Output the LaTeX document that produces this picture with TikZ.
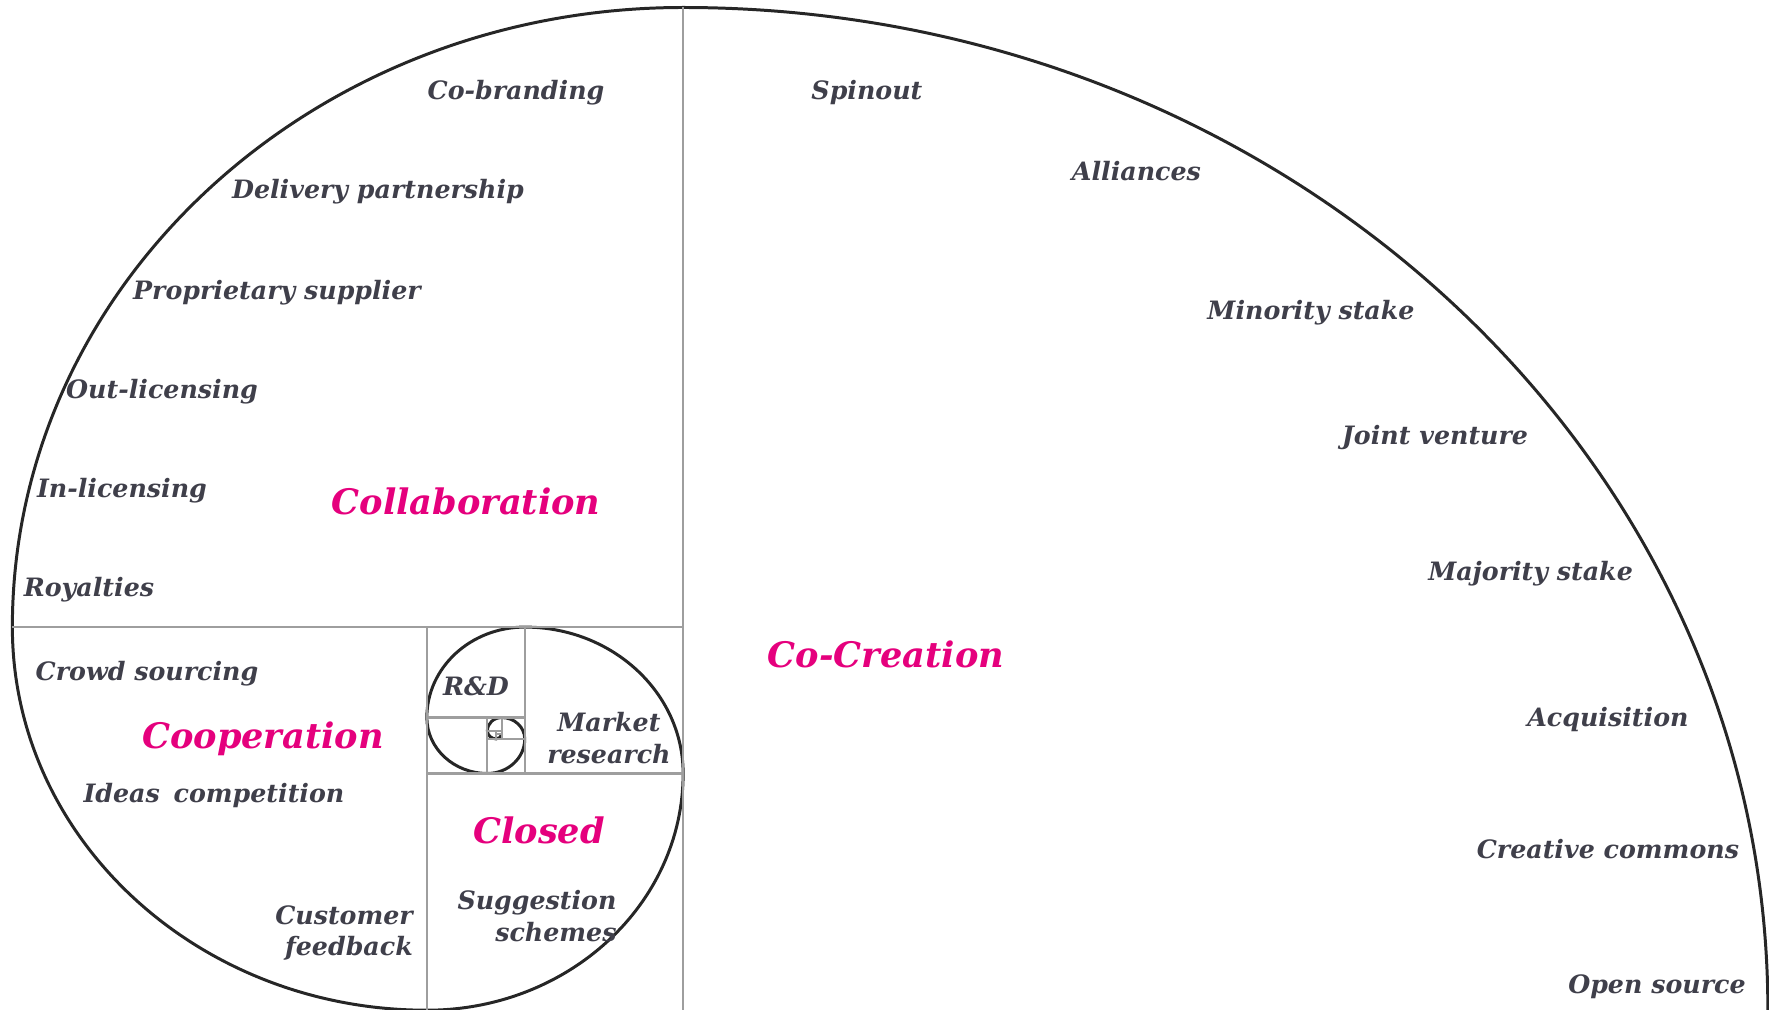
\documentclass[tikz,border=0pt]{standalone}
\usepackage{fontspec}
\setmainfont{DejaVu Serif}
\definecolor{labelgray}{HTML}{3F3F4A}
\definecolor{areapink}{HTML}{E5007D}

\begin{document}
\begin{tikzpicture}[x=10.849cm,y=10.025cm,
  item/.style={text=labelgray,font=\fontsize{7.2}{9}\selectfont\bfseries\itshape,inner sep=0pt,yshift=-0.3mm},
  area/.style={text=areapink,font=\fontsize{10}{12}\selectfont\bfseries\itshape,inner sep=0pt},
  frame/.style={draw=black!38,line width=0.6pt},
  spiral/.style={draw=black!85,line width=0.85pt}]
\pgfmathsetmacro{\gr}{1.6180340}

\useasboundingbox (-0.01152,0) rectangle (1.6191,1.00748);

% golden spiral, one quarter arc per square
\draw[spiral] (\gr,0) \foreach \k in {0,...,11} {
  arc[start angle=90*\k, end angle=90*\k+90, radius={\gr^(-\k)}] coordinate (p\k)};

% square borders
\foreach \k in {0,...,11}
  \draw[frame] (p\k) -- ++({90*\k+270}:{\gr^(-\k)});

\node[area](collaboration) at (0.4180,0.5077) {Collaboration};
\node[area](cocreation) at (0.8052,0.3551) {Co-Creation};
\node[area](cooperation) at (0.2309,0.2708) {Cooperation};
\node[area](closed) at (0.4853,0.1796) {Closed};

\node[item](cobranding) at (0.4641,0.9177) {Co-branding};
\node[item](delivery) at (0.3369,0.8190) {Delivery partnership};
\node[item](supplier) at (0.2438,0.7182) {Proprietary supplier};
\node[item](outlicensing) at (0.1378,0.6194) {Out-licensing};
\node[item](inlicensing) at (0.1009,0.5207) {In-licensing};
\node[item](royalties) at (0.0705,0.4219) {Royalties};

\node[item](spinout) at (0.7876,0.9177) {Spinout};
\node[item](alliances) at (1.0360,0.8399) {Alliances};
\node[item](minority) at (1.1969,0.6983) {Minority stake};
\node[item](joint) at (1.3112,0.5736) {Joint venture};
\node[item](majority) at (1.3993,0.4384) {Majority stake};
\node[item](acquisition) at (1.4706,0.2923) {Acquisition};
\node[item](creative) at (1.4706,0.1640) {Creative commons};
\node[item](opensource) at (1.5158,0.0259) {Open source};

\node[item](crowd) at (0.1240,0.3382) {Crowd sourcing};
\node[item](ideas) at (0.1857,0.2165) {Ideas\hspace{0.2em} competition};
\node[item,align=right](customer) at (0.3056,0.0798) {Customer\\feedback};

\node[item](rnd) at (0.4272,0.3262) {R\&D};
\node[item,align=center](market) at (0.5498,0.2743) {Market\\research};
\node[item,align=right](suggestion) at (0.4835,0.0968) {Suggestion\\schemes};

\end{tikzpicture}
\end{document}
